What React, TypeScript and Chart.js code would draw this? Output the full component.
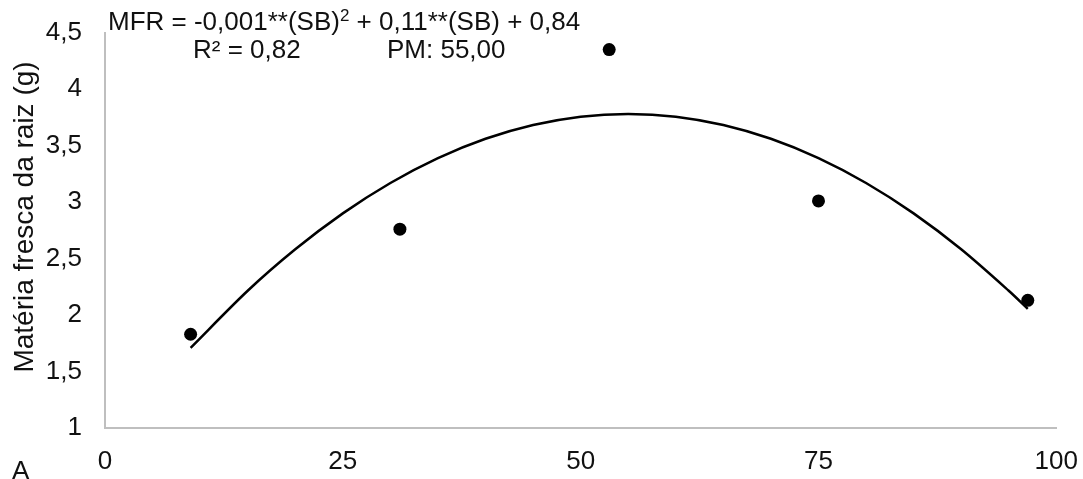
import React, { useEffect, useRef } from "react";
import { Chart, registerables } from "chart.js";

Chart.register(...registerables);

// Observed data (SB dose vs. root fresh matter)
const doses = [9, 31, 53, 75, 97];
const rootFreshMass = [1.83, 2.76, 4.35, 3.01, 2.13];

// Fitted trend curve
const curveX = [9, 15, 20, 25, 30, 35, 40, 45, 50, 55, 60, 65, 70, 75, 80, 85, 90, 95, 97];
const curveY = [1.71, 2.215, 2.582, 2.9, 3.169, 3.389, 3.56, 3.682, 3.756, 3.78, 3.756, 3.682, 3.56, 3.389, 3.169, 2.9, 2.582, 2.215, 2.055];

// Axis ticks
const xTicks = [0, 25, 50, 75, 100];
const xTickLabels = ["0", "25", "50", "75", "100"];
const yTicks = [1, 1.5, 2, 2.5, 3, 3.5, 4, 4.5];
const yTickLabels = ["1", "1,5", "2", "2,5", "3", "3,5", "4", "4,5"];

const FONT = "'Liberation Sans', Arial, sans-serif";
const TEXT = "#111111";
const AXIS = "#bfbfbf";

export default function App() {
  const ref = useRef<HTMLCanvasElement | null>(null);

  useEffect(() => {
    if (!ref.current) return;
    const chart = new Chart(ref.current, {
      type: "scatter",
      data: {
        datasets: [
          {
            label: "Ajuste",
            data: curveX.map((x, i) => ({ x, y: curveY[i] })),
            showLine: true,
            borderColor: "#000",
            borderWidth: 2.5,
            pointRadius: 0,
            tension: 0.3,
            fill: false,
          },
          {
            label: "MFR",
            data: doses.map((x, i) => ({ x, y: rootFreshMass[i] })),
            showLine: false,
            backgroundColor: "#000",
            borderColor: "#000",
            pointRadius: 6.5,
            pointBorderWidth: 0,
          },
        ],
      },
      options: {
        responsive: false,
        animation: false,
        layout: { padding: { left: 0, right: 14, top: 26, bottom: 0 } },
        plugins: { legend: { display: false }, tooltip: { enabled: false } },
        scales: {
          x: {
            type: "linear",
            min: 0,
            max: 100,
            grid: { display: false, drawTicks: false },
            border: { display: true, color: AXIS, width: 2 },
            afterBuildTicks: (s: any) => {
              s.ticks = xTicks.map((v) => ({ value: v }));
            },
            afterFit: (s: any) => {
              s.height = 51;
            },
            ticks: {
              padding: 18,
              color: TEXT,
              font: { family: FONT, size: 26 },
              maxRotation: 0,
              callback: (v: any) => {
                const i = xTicks.indexOf(Number(v));
                return i >= 0 ? xTickLabels[i] : "";
              },
            },
          },
          y: {
            type: "linear",
            min: 1,
            max: 4.5,
            grid: { display: false, drawTicks: false },
            border: { display: true, color: AXIS, width: 2 },
            afterBuildTicks: (s: any) => {
              s.ticks = yTicks.map((v) => ({ value: v }));
            },
            afterFit: (s: any) => {
              s.width = 105;
            },
            ticks: {
              padding: 23,
              color: TEXT,
              font: { family: FONT, size: 26 },
              callback: (v: any) => {
                const i = yTicks.findIndex((t) => Math.abs(t - Number(v)) < 1e-9);
                return i >= 0 ? yTickLabels[i] : "";
              },
            },
          },
        },
      },
    });
    return () => chart.destroy();
  }, []);

  const textStyle: React.CSSProperties = {
    position: "absolute",
    fontFamily: FONT,
    fontSize: 26,
    lineHeight: 1,
    color: TEXT,
    whiteSpace: "nowrap",
  };

  return (
    <div style={{ position: "absolute", left: 0, top: 0, width: 1083, height: 479, background: "#fff", overflow: "hidden" }}>
      <canvas ref={ref} width={1096} height={485} style={{ position: "absolute", left: 0, top: -6 }} />
      <div style={{ ...textStyle, left: 108, top: 8 }}>
        MFR = -0,001**(SB)
        <span style={{ fontSize: 17, position: "relative", top: -9 }}>2</span> + 0,11**(SB) + 0,84
      </div>
      <div style={{ ...textStyle, left: 193, top: 36 }}>R² = 0,82</div>
      <div style={{ ...textStyle, left: 387, top: 36 }}>PM: 55,00</div>
      <div
        style={{
          ...textStyle,
          fontSize: 28,
          left: 24,
          top: 217,
          transform: "translate(-50%, -50%) rotate(-90deg)",
        }}
      >
        Matéria fresca da raiz (g)
      </div>
      <div style={{ ...textStyle, left: 12, top: 457 }}>A</div>
    </div>
  );
}
